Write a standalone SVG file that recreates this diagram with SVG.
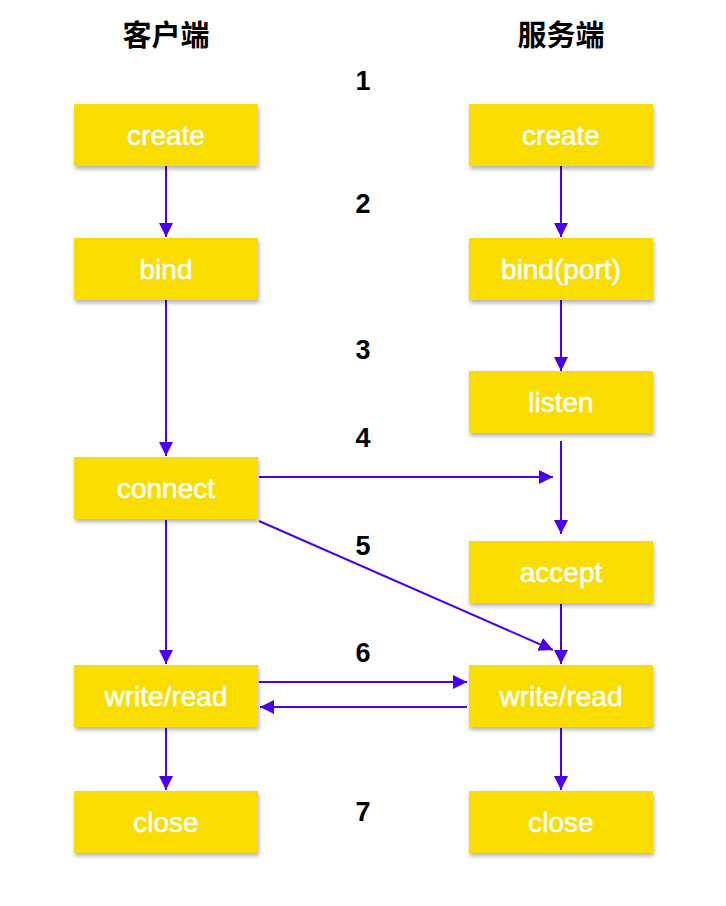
<svg xmlns="http://www.w3.org/2000/svg" width="726" height="906" viewBox="0 0 726 906">
<defs>
<filter id="sh" x="-10%" y="-10%" width="125%" height="135%">
<feDropShadow dx="1" dy="3" stdDeviation="2" flood-color="#000" flood-opacity="0.3"/>
</filter>
<marker id="ahb" viewBox="0 0 10 10" refX="10" refY="5" markerWidth="7" markerHeight="7" orient="auto">
<path d="M0,0 L10,5 L0,10 z" fill="#4a00ee"/>
</marker>
</defs>
<style>
.box{fill:#f9dc06;filter:url(#sh)}
.lbl{font-family:"Liberation Sans",Arial,sans-serif;font-size:28px;fill:#fff;stroke:#fff;stroke-width:0.5;text-anchor:middle}
.num{font-family:"Liberation Sans",Arial,sans-serif;font-size:27px;font-weight:bold;fill:#000;text-anchor:middle}
.hdr{font-family:"Noto Sans CJK SC","Liberation Sans",sans-serif;font-size:29px;font-weight:bold;fill:#000;text-anchor:middle}
.c{stroke:#4a00ee;stroke-width:2;fill:none;marker-end:url(#ahb)}
</style>
<rect width="726" height="906" fill="#fff"/>
<text class="hdr" x="166" y="46">客户端</text>
<text class="hdr" x="561" y="46">服务端</text>
<g id="nums">
<text class="num" x="363" y="90">1</text>
<text class="num" x="363" y="213">2</text>
<text class="num" x="363" y="359">3</text>
<text class="num" x="363" y="447">4</text>
<text class="num" x="363" y="555">5</text>
<text class="num" x="363" y="662">6</text>
<text class="num" x="363" y="821">7</text>
</g>
<g id="connectors">
<line class="c" x1="166" y1="166" x2="166" y2="237"/>
<line class="c" x1="166" y1="300" x2="166" y2="456"/>
<line class="c" x1="166" y1="520" x2="166" y2="664"/>
<line class="c" x1="166" y1="728" x2="166" y2="790"/>
<line class="c" x1="561" y1="166" x2="561" y2="237"/>
<line class="c" x1="561" y1="300" x2="561" y2="371"/>
<line class="c" x1="561" y1="441" x2="561" y2="534"/>
<line class="c" x1="561" y1="604" x2="561" y2="664"/>
<line class="c" x1="561" y1="728" x2="561" y2="790"/>
<line class="c" x1="259" y1="477" x2="553" y2="477"/>
<line class="c" x1="259" y1="521" x2="553" y2="650"/>
<line class="c" x1="259" y1="682" x2="467" y2="682"/>
<line class="c" x1="467" y1="707" x2="260" y2="707"/>
</g>
<g id="c-create"><rect class="box" x="74" y="104" width="184" height="62"/><text class="lbl" x="166" y="145">create</text></g>
<g id="c-bind"><rect class="box" x="74" y="238" width="184" height="62"/><text class="lbl" x="166" y="279">bind</text></g>
<g id="c-connect"><rect class="box" x="74" y="457" width="184" height="62"/><text class="lbl" x="166" y="498">connect</text></g>
<g id="c-wr"><rect class="box" x="74" y="665" width="184" height="62"/><text class="lbl" x="166" y="706">write/read</text></g>
<g id="c-close"><rect class="box" x="74" y="791" width="184" height="62"/><text class="lbl" x="166" y="832">close</text></g>
<g id="s-create"><rect class="box" x="469" y="104" width="184" height="62"/><text class="lbl" x="561" y="145">create</text></g>
<g id="s-bind"><rect class="box" x="469" y="238" width="184" height="62"/><text class="lbl" x="561" y="279">bind(port)</text></g>
<g id="s-listen"><rect class="box" x="469" y="371" width="184" height="62"/><text class="lbl" x="561" y="412">listen</text></g>
<g id="s-accept"><rect class="box" x="469" y="541" width="184" height="62"/><text class="lbl" x="561" y="582">accept</text></g>
<g id="s-wr"><rect class="box" x="469" y="665" width="184" height="62"/><text class="lbl" x="561" y="706">write/read</text></g>
<g id="s-close"><rect class="box" x="469" y="791" width="184" height="62"/><text class="lbl" x="561" y="832">close</text></g>
</svg>
